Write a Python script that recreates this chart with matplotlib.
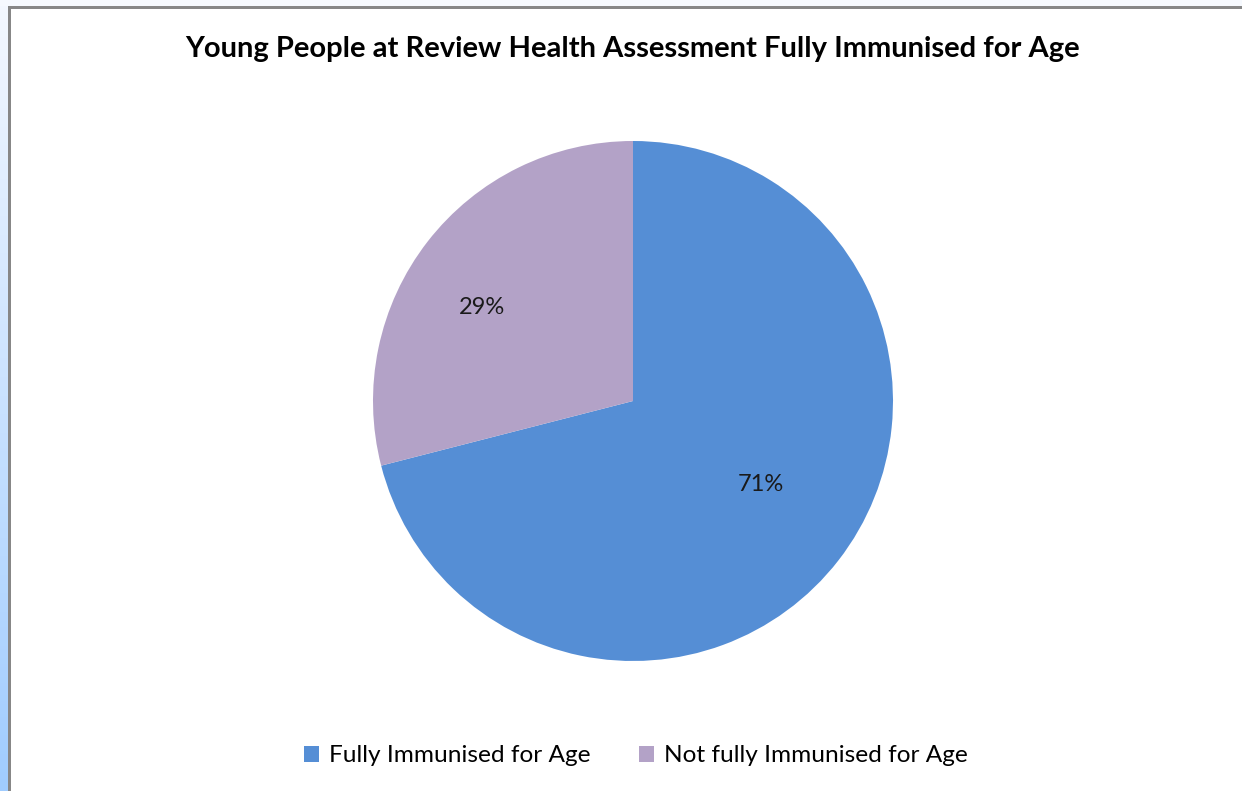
import numpy as np
import matplotlib.pyplot as plt
from matplotlib.patches import Rectangle

#Chart data.
labels = ["Fully Immunised for Age", "Not fully Immunised for Age"]
values = [71, 29]
colors = ["#558ED5", "#B3A2C7"]
title = "Young People at Review Health Assessment Fully Immunised for Age"

W, H = 1242, 791
fig = plt.figure(figsize=(W/100, H/100), dpi=100)
fig.patch.set_facecolor("white")

#Screen strip on the left and the frame of the chart.
strip = fig.add_axes([0, 0, 8/W, 1])
grad = np.linspace(0, 1, 256).reshape(-1, 1)
strip.imshow(grad, aspect="auto", cmap=plt.matplotlib.colors.LinearSegmentedColormap.from_list(
     "s", ["#a0ccff", "#f4f8fe"]), origin="lower", extent=[0, 1, 0, 1])
strip.set_axis_off()
fig.patches.append(Rectangle((0, 1 - 6/H), 1, 6/H, transform=fig.transFigure,
                             facecolor="#f6f9fe", edgecolor="none"))
fig.patches.append(Rectangle((8/W, 0), 3/W, 1 - 6/H, transform=fig.transFigure,
                             facecolor="#878787", edgecolor="none"))
fig.patches.append(Rectangle((8/W, 1 - 9/H), 1, 3/H, transform=fig.transFigure,
                             facecolor="#878787", edgecolor="none"))

#Pie.
cx, cy, r = 633, 401, 260
ax = fig.add_axes([(cx - r)/W, (H - cy - r)/H, 2*r/W, 2*r/H])
wedges, texts, autotexts = ax.pie(values, colors=colors, startangle=90, counterclock=False,
                                  autopct="%d%%", pctdistance=0.62, radius=1,
                                  textprops={"fontsize": 17, "family": "Lato", "color": "#1a1a1a"})
#Excel puts the labels a bit off the middle of the slices.
label_pos = [(0.49, -0.32), (-0.58, 0.36)]
for t, p in zip(autotexts, label_pos):
     t.set_position(p)
ax.set_xlim(-1, 1); ax.set_ylim(-1, 1)
ax.set_aspect("equal")

fig.text(0.509, 1 - 49/H, title, ha="center", va="center", fontsize=21,
         fontweight="bold", family="Lato")

fig.legend(wedges, labels, loc="center", bbox_to_anchor=(0.512, 1 - 756/H), ncol=2,
           frameon=False, prop={"family": "Lato", "size": 17.6}, handlelength=0.6,
           handleheight=0.6, handletextpad=0.4, columnspacing=2.0)

fig.savefig("out.png", dpi=100)
